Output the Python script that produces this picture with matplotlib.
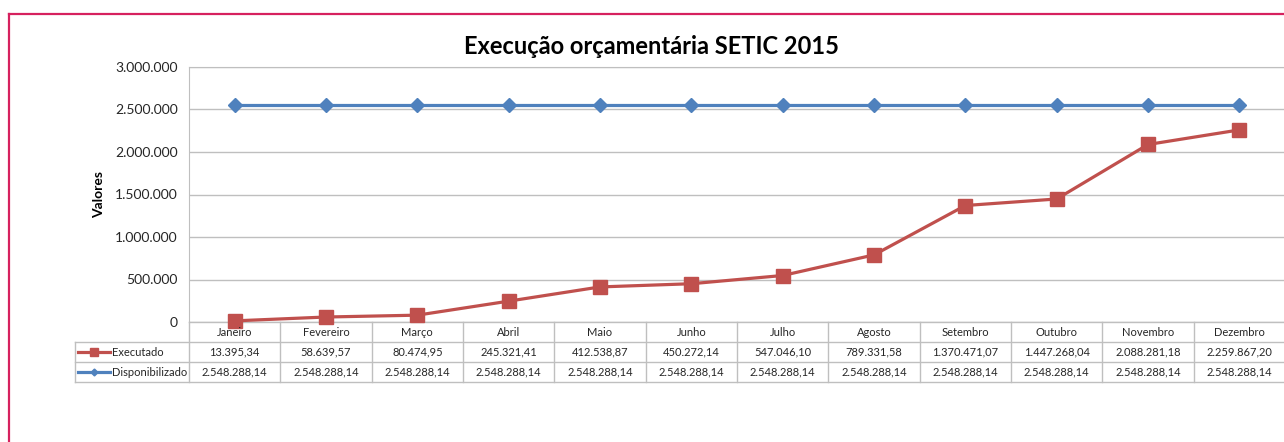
import numpy as np
import matplotlib
matplotlib.use('Agg')
import matplotlib.pyplot as plt
from matplotlib.lines import Line2D

plt.rcParams['font.family'] = ['Lato', 'DejaVu Sans']

meses = ['Janeiro', 'Fevereiro', 'Março', 'Abril', 'Maio', 'Junho',
         'Julho', 'Agosto', 'Setembro', 'Outubro', 'Novembro', 'Dezembro']
executado = [13395.34, 58639.57, 80474.95, 245321.41, 412538.87, 450272.14,
             547046.10, 789331.58, 1370471.07, 1447268.04, 2088281.18, 2259867.20]
disponibilizado = [2548288.14] * 12
y_ticks = [0, 500000, 1000000, 1500000, 2000000, 2500000, 3000000]

red = '#C0504D'
blue = '#4F81BD'
grid_c = '#BFBFBF'
txt = '#262626'


def br(v, dec=2):
    s = f'{v:,.{dec}f}'
    return s.replace(',', 'X').replace('.', ',').replace('X', '.')


fig = plt.figure(figsize=(12.84, 4.42), dpi=100)
ax = fig.add_axes([189 / 1284, 1 - 322 / 442, 1096 / 1284, 255 / 442])

x = np.arange(len(meses))
ax.plot(x, disponibilizado, color=blue, lw=2.3, marker='D', ms=7.5,
        zorder=3, clip_on=False)
ax.plot(x, executado, color=red, lw=2.3, marker='s', ms=9.5,
        zorder=3, clip_on=False)

ax.set_xlim(-0.5, len(meses) - 0.5)
ax.set_ylim(0, 3000000)
ax.set_yticks(y_ticks)
ax.set_yticklabels([br(v, 0) for v in y_ticks], fontsize=10, color=txt)
ax.tick_params(axis='y', length=0, pad=8)
ax.set_xticks([])
ax.grid(axis='y', color=grid_c, lw=1)
ax.set_axisbelow(True)
for s in ['right', 'bottom']:
    ax.spines[s].set_visible(False)
ax.spines['top'].set_color(grid_c)
ax.spines['left'].set_color(grid_c)
ax.set_ylabel('Valores', fontsize=10, fontweight='bold', color='black', labelpad=7)

fig.text(652 / 1284, 1 - 46 / 442, 'Execução orçamentária SETIC 2015',
         ha='center', va='center', fontsize=17, fontweight='bold', color='black')

# tabela de dados abaixo do grafico
row_h = 20 / 255
y0, y1, y2, y3 = 0, -row_h, -2 * row_h, -3 * row_h
leg_left = -(189 - 75) / 91.33 - 0.5
xt = ax.get_xaxis_transform()
kw = dict(color=grid_c, lw=1, clip_on=False, zorder=1, transform=xt)


def hline(xa, xb, yy):
    ax.add_line(Line2D([xa, xb], [yy, yy], **kw))


def vline(xx, ya, yb):
    ax.add_line(Line2D([xx, xx], [ya, yb], **kw))


hline(-0.5, 11.5, y0)
hline(leg_left, 11.5, y1)
hline(leg_left, 11.5, y2)
hline(leg_left, 11.5, y3)
for i in range(len(meses)):
    vline(i - 0.5, y0, y3)
vline(leg_left, y1, y3)

fs = 8
for i, m in enumerate(meses):
    ax.text(i, (y0 + y1) / 2, m, transform=xt, ha='center', va='center',
            fontsize=fs, color=txt)
    ax.text(i, (y1 + y2) / 2, br(executado[i]), transform=xt, ha='center',
            va='center', fontsize=fs, color=txt)
    ax.text(i, (y2 + y3) / 2, br(disponibilizado[i]), transform=xt, ha='center',
            va='center', fontsize=fs, color=txt)

# chaves da legenda dentro da tabela
key_a = leg_left + 3 / 91.33
key_b = leg_left + 35 / 91.33
ax.add_line(Line2D([key_a, key_b], [(y1 + y2) / 2] * 2, transform=xt, color=red,
                   lw=2.3, clip_on=False))
ax.add_line(Line2D([(key_a + key_b) / 2], [(y1 + y2) / 2], transform=xt, color=red,
                   marker='s', ms=6, clip_on=False))
ax.add_line(Line2D([key_a, key_b], [(y2 + y3) / 2] * 2, transform=xt, color=blue,
                   lw=2.3, clip_on=False))
ax.add_line(Line2D([(key_a + key_b) / 2], [(y2 + y3) / 2], transform=xt, color=blue,
                   marker='D', ms=3.5, clip_on=False))
ax.text(key_b + 2 / 91.33, (y1 + y2) / 2, 'Executado', transform=xt, ha='left',
        va='center', fontsize=fs, color=txt)
ax.text(key_b + 2 / 91.33, (y2 + y3) / 2, 'Disponibilizado', transform=xt, ha='left',
        va='center', fontsize=fs, color=txt)

# moldura rosa
frame_c = '#D6215E'
fig.add_artist(Line2D([9 / 1284, 9 / 1284], [0, 1 - 14 / 442], color=frame_c, lw=1.6,
                      transform=fig.transFigure))
fig.add_artist(Line2D([9 / 1284, 1], [1 - 14 / 442, 1 - 14 / 442], color=frame_c,
                      lw=1.6, transform=fig.transFigure))

fig.savefig('out.png', dpi=100)
